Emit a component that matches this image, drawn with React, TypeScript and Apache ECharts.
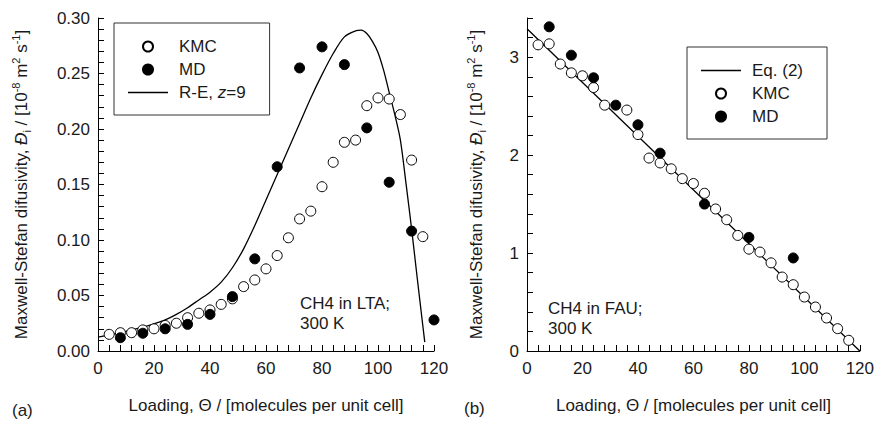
import React, { useEffect, useRef } from "react";
import * as echarts from "echarts";

// ---- Data (a) CH4 in LTA ----
const kmcA_x = [4, 8, 12, 16, 20, 24, 28, 32, 36, 40, 44, 48, 52, 56, 60, 64, 68, 72, 76, 80, 84, 88, 92, 96, 100, 104, 108, 112, 116];
const kmcA_y = [0.015, 0.0165, 0.0165, 0.019, 0.02, 0.023, 0.025, 0.03, 0.034, 0.037, 0.042, 0.047, 0.058, 0.064, 0.074, 0.086, 0.102, 0.119, 0.126, 0.148, 0.17, 0.188, 0.19, 0.221, 0.228, 0.227, 0.213, 0.172, 0.103];
const mdA_x = [8, 16, 24, 32, 40, 48, 56, 64, 72, 80, 88, 96, 104, 112, 120];
const mdA_y = [0.012, 0.016, 0.02, 0.024, 0.033, 0.049, 0.083, 0.166, 0.255, 0.274, 0.258, 0.201, 0.152, 0.108, 0.028];
const reA_x = [0, 4, 8, 12, 16, 20, 24, 28, 32, 36, 40, 44, 48, 52, 56, 60, 64, 68, 72, 76, 80, 84, 88, 92, 94, 96, 98, 100, 102, 104, 106, 108, 110, 112, 114, 116, 116.7];
const reA_y = [0.0126, 0.0145, 0.0165, 0.019, 0.0215, 0.0245, 0.028, 0.033, 0.039, 0.046, 0.053, 0.062, 0.075, 0.092, 0.113, 0.136, 0.159, 0.182, 0.205, 0.228, 0.249, 0.268, 0.283, 0.2885, 0.289, 0.286, 0.279, 0.269, 0.253, 0.233, 0.213, 0.19, 0.151, 0.11, 0.066, 0.023, 0.008];

// ---- Data (b) CH4 in FAU ----
const kmcB_x = [4, 8, 12, 16, 20, 24, 28, 36, 40, 44, 48, 52, 56, 60, 64, 68, 72, 76, 80, 84, 88, 92, 96, 100, 104, 108, 112, 116];
const kmcB_y = [3.126, 3.136, 2.93, 2.84, 2.81, 2.69, 2.51, 2.46, 2.21, 1.97, 1.92, 1.86, 1.76, 1.71, 1.61, 1.45, 1.34, 1.18, 1.04, 1.01, 0.9, 0.755, 0.677, 0.551, 0.449, 0.337, 0.228, 0.109];
const mdB_x = [8, 16, 24, 32, 40, 48, 64, 80, 96];
const mdB_y = [3.31, 3.02, 2.79, 2.51, 2.31, 2.02, 1.5, 1.16, 0.95];
const eqB_x = [0, 120];
const eqB_y = [3.29, 0];

// ---- Axis tick settings ----
const xMax = 120;
const xTickStep = 4;
const xLabelStep = 20;
const yMaxA = 0.3;
const yTickStepA = 0.01;
const yLabelStepA = 0.05;
const yMaxB = 3.4;
const yTickStepB = 0.2;
const yLabelStepB = 1;

const zip = (xs: number[], ys: number[]) => xs.map((x, i) => [x, ys[i]]);

const FONT = "Liberation Sans, Arial, Helvetica, sans-serif";
const TXT = "#1a1a1a";

const isMultiple = (v: number, step: number) => Math.abs(v / step - Math.round(v / step)) < 1e-6;

const yName =
  "{n|Maxwell-Stefan difusivity, }{it|Đ}{sub|i}{n| / [10}{sup|-8}{n| m}{sup|2}{n| s}{sup|-1}{n|]}";
const yNameRich = {
  n: { fontSize: 17, fontFamily: FONT, color: TXT, lineHeight: 22 },
  it: { fontSize: 17, fontFamily: FONT, color: TXT, fontStyle: "italic", lineHeight: 22 },
  sub: { fontSize: 11, fontFamily: FONT, color: TXT, verticalAlign: "bottom", lineHeight: 11 },
  sup: { fontSize: 11, fontFamily: FONT, color: TXT, verticalAlign: "top", lineHeight: 11 },
};

function xAxisCfg(gridIndex: number) {
  return {
    type: "value",
    gridIndex,
    min: 0,
    max: xMax,
    interval: xTickStep,
    name: "Loading, Θ / [molecules per unit cell]",
    nameLocation: "middle",
    nameGap: 46,
    nameTextStyle: { fontSize: 17, fontFamily: FONT, color: TXT },
    axisLine: { show: true, onZero: false, lineStyle: { color: "#000", width: 1 } },
    axisTick: { show: true, inside: true, length: 6, lineStyle: { color: "#000", width: 1 } },
    axisLabel: {
      fontSize: 17,
      fontFamily: FONT,
      color: TXT,
      margin: 9,
      formatter: (v: number) => (isMultiple(v, xLabelStep) ? String(Math.round(v)) : ""),
    },
    splitLine: { show: false },
  };
}

function yAxisCfg(gridIndex: number, max: number, step: number, labelStep: number, decimals: number, nameGap: number) {
  return {
    type: "value",
    gridIndex,
    min: 0,
    max,
    interval: step,
    name: yName,
    nameLocation: "middle",
    nameRotate: 90,
    nameGap,
    nameTextStyle: { fontSize: 17, fontFamily: FONT, color: TXT, rich: yNameRich },
    axisLine: { show: true, onZero: false, lineStyle: { color: "#000", width: 1 } },
    axisTick: { show: true, inside: true, length: 6, lineStyle: { color: "#000", width: 1 } },
    axisLabel: {
      fontSize: 17,
      fontFamily: FONT,
      color: TXT,
      margin: 8,
      formatter: (v: number) => (isMultiple(v, labelStep) ? v.toFixed(decimals) : ""),
    },
    splitLine: { show: false },
  };
}

const openSym = { color: "#fff", borderColor: "#000", borderWidth: 1, opacity: 1 };
const fillSym = { color: "#000", borderColor: "#000", borderWidth: 1, opacity: 1 };

const legendText = {
  fontSize: 17,
  fontFamily: FONT,
  color: TXT,
  padding: [0, 0, 0, 6],
  rich: {
    n: { fontSize: 17, fontFamily: FONT, color: TXT },
    i: { fontSize: 17, fontFamily: FONT, color: TXT, fontStyle: "italic" },
  },
};
const legendFmt = (name: string) =>
  name === "R-E, z=9" ? "{n|R-E, }{i|z}{n|=9}" : "{n|" + name + "}";

const lineIcon = "path://M0,0H40V1.3H0Z";

export default function App() {
  const ref = useRef<HTMLDivElement>(null);
  useEffect(() => {
    if (!ref.current) return;
    const chart = echarts.init(ref.current, undefined, { renderer: "svg" });
    chart.setOption({
      animation: false,
      backgroundColor: "#fff",
      grid: [
        { left: 98, right: 443, top: 18, bottom: 71 },
        { left: 527, right: 14, top: 18, bottom: 71 },
      ],
      xAxis: [xAxisCfg(0), xAxisCfg(1)],
      yAxis: [
        yAxisCfg(0, yMaxA, yTickStepA, yLabelStepA, 2, 66),
        yAxisCfg(1, yMaxB, yTickStepB, yLabelStepB, 0, 40),
      ],
      legend: [
        {
          data: [
            { name: "KMC" },
            { name: "MD" },
            { name: "R-E, z=9", icon: lineIcon, itemStyle: { color: "#000", borderWidth: 0 } },
          ],
          orient: "vertical",
          left: 114,
          top: 23,
          itemWidth: 40,
          itemHeight: 10,
          itemGap: 6,
          padding: [15, 24, 14, 14],
          borderColor: "#333",
          borderWidth: 1,
          selectedMode: false,
          textStyle: legendText,
          formatter: legendFmt,
        },
        {
          data: [
            { name: "Eq. (2)", icon: lineIcon, itemStyle: { color: "#000", borderWidth: 0 } },
            { name: "KMC" },
            { name: "MD" },
          ],
          orient: "vertical",
          left: 687,
          top: 47,
          itemWidth: 40,
          itemHeight: 10,
          itemGap: 6,
          padding: [15, 24, 14, 14],
          borderColor: "#333",
          borderWidth: 1,
          selectedMode: false,
          textStyle: legendText,
          formatter: legendFmt,
        },
      ],
      graphic: [
        { type: "text", left: 300, top: 293, style: { text: "CH4 in LTA;\n300 K", fontSize: 17, fontFamily: FONT, fill: TXT, lineHeight: 20 } },
        { type: "text", left: 548, top: 298, style: { text: "CH4 in FAU;\n300 K", fontSize: 17, fontFamily: FONT, fill: TXT, lineHeight: 20 } },
        { type: "text", left: 12, top: 402, style: { text: "(a)", fontSize: 17, fontFamily: FONT, fill: TXT } },
        { type: "text", left: 464, top: 400, style: { text: "(b)", fontSize: 17, fontFamily: FONT, fill: TXT } },
      ],
      series: [
        {
          name: "R-E, z=9",
          type: "line",
          xAxisIndex: 0,
          yAxisIndex: 0,
          data: zip(reA_x, reA_y),
          smooth: 0.3,
          symbol: "none",
          lineStyle: { color: "#000", width: 1.3 },
          itemStyle: { color: "#000" },
          z: 2,
        },
        {
          name: "KMC",
          type: "scatter",
          xAxisIndex: 0,
          yAxisIndex: 0,
          data: zip(kmcA_x, kmcA_y),
          symbol: "circle",
          symbolSize: 10,
          itemStyle: openSym,
          z: 3,
        },
        {
          name: "MD",
          type: "scatter",
          xAxisIndex: 0,
          yAxisIndex: 0,
          data: zip(mdA_x, mdA_y),
          symbol: "circle",
          symbolSize: 10,
          itemStyle: fillSym,
          z: 4,
        },
        {
          name: "Eq. (2)",
          type: "line",
          xAxisIndex: 1,
          yAxisIndex: 1,
          data: zip(eqB_x, eqB_y),
          symbol: "none",
          lineStyle: { color: "#000", width: 1.3 },
          itemStyle: { color: "#000" },
          z: 2,
        },
        {
          name: "KMC",
          type: "scatter",
          xAxisIndex: 1,
          yAxisIndex: 1,
          data: zip(kmcB_x, kmcB_y),
          symbol: "circle",
          symbolSize: 10,
          itemStyle: openSym,
          z: 3,
        },
        {
          name: "MD",
          type: "scatter",
          xAxisIndex: 1,
          yAxisIndex: 1,
          data: zip(mdB_x, mdB_y),
          symbol: "circle",
          symbolSize: 10,
          itemStyle: fillSym,
          z: 4,
        },
      ],
    });
    return () => chart.dispose();
  }, []);
  return <div ref={ref} style={{ width: 877, height: 422, position: "absolute", left: 0, top: 0 }} />;
}
